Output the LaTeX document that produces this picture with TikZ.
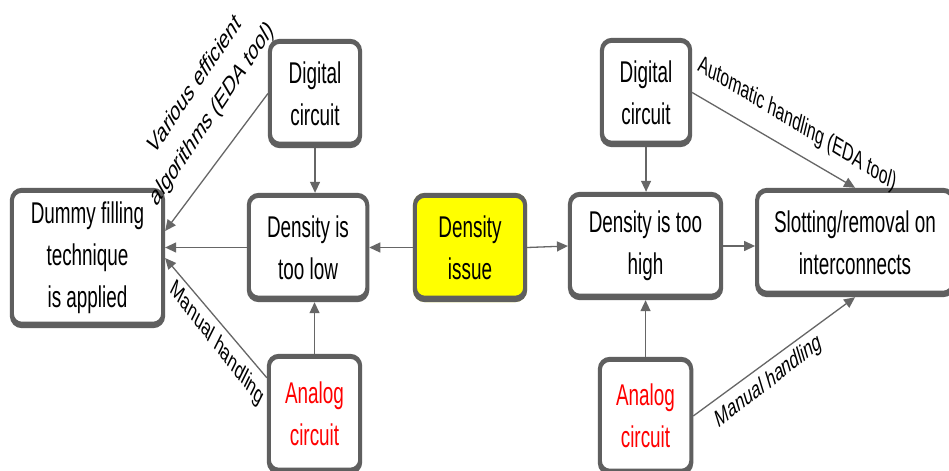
\documentclass[tikz,border=0pt]{standalone}
\usepackage{fontspec}
\setmainfont{Liberation Sans}
\usetikzlibrary{arrows.meta,calc}
\definecolor{frameGray}{HTML}{5F5F5F}
\definecolor{lineGray}{HTML}{666666}
\definecolor{issueYellow}{HTML}{FFFF00}
\definecolor{analogRed}{HTML}{FF0000}
\begin{document}
\begin{tikzpicture}[x=1.5873pt, y=-1pt, xscale=0.63, transform shape,
  box/.style={rectangle, rounded corners=12pt, fill=white, align=center,
    inner sep=0pt, font=\fontsize{30}{42}\selectfont},
  issuebox/.style={box, fill=issueYellow},
  analog/.style={box, text=analogRed},
  lbl/.style={align=center, inner sep=0pt, font=\fontsize{25}{30}\selectfont},
  conn/.style={draw=lineGray, line width=1.3pt, -{Triangle[length=11pt,width=10pt]}}]
\path[use as bounding box, fill=white] (0,0) rectangle (949,471);

% boxes
\node[box, minimum width=246pt, minimum height=140pt] (dummy) at (87.5,258) {Dummy filling\\technique\\is applied};
\node[box, minimum width=149pt, minimum height=109pt] (digL) at (315,93.5) {Digital\\circuit};
\node[box, minimum width=194pt, minimum height=109pt] (low) at (308,247.5) {Density is\\too low};
\node[analog, minimum width=151pt, minimum height=120pt] (anaL) at (314.5,414) {Analog\\circuit};
\node[issuebox, minimum width=181pt, minimum height=109pt] (issue) at (470,247.5) {Density\\issue};
\node[box, minimum width=246pt, minimum height=108pt] (high) at (645.5,246) {Density is too\\high};
\node[box, minimum width=146pt, minimum height=109pt] (digR) at (646,92.5) {Digital\\circuit};
\node[analog, minimum width=151pt, minimum height=118pt] (anaR) at (645.5,416) {Analog\\circuit};
\node[box, minimum width=317pt, minimum height=109pt] (slot) at (855,242.5) {Slotting/removal on\\interconnects};

% heavy rounded frames
\foreach \n in {dummy,digL,low,anaL,issue,high,digR,anaR,slot}
  \fill[frameGray, even odd rule]
    [rounded corners=12pt] (\n.north west) rectangle (\n.south east)
    [rounded corners=8pt] ($(\n.north west)+(4,5)$) rectangle ($(\n.south east)+(-4,-6.5)$);

% connectors, left half
\draw[conn] (issue.west) -- (low.east);
\draw[conn] (low.west) -- (low.west -| dummy.east);
\draw[conn] (digL.south) -- (digL.south |- low.north);
\draw[conn] (anaL.north) -- (anaL.north |- low.south);
\draw[conn] (digL.west) -- ($(dummy.east)+(0,-27)$);
\draw[conn] ($(anaL.north west)+(0,24)$) -- (dummy.east);

% connectors, right half
\draw[conn] (issue.east) -- (high.west);
\draw[conn] (high.east) -- (high.east -| slot.west);
\draw[conn] (digR.south) -- (digR.south |- high.north);
\draw[conn] (anaR.north) -- (anaR.north |- high.south);
\draw[conn] (digR.east) -- (slot.north);
\draw[conn] (anaR.east) -- (slot.south);

% connector labels
\node[lbl, rotate=43, font=\fontsize{27}{40}\selectfont] (lblAlg) at (204,100) {Various efficient\\algorithms (EDA tool)};
\node[lbl, rotate=-38.5] (lblManL) at (217,344) {Manual handling};
\node[lbl, rotate=-21] (lblAuto) at (797,124) {Automatic handling (EDA tool)};
\node[lbl, rotate=26] (lblManR) at (769,382) {Manual handling};
\end{tikzpicture}
\end{document}
